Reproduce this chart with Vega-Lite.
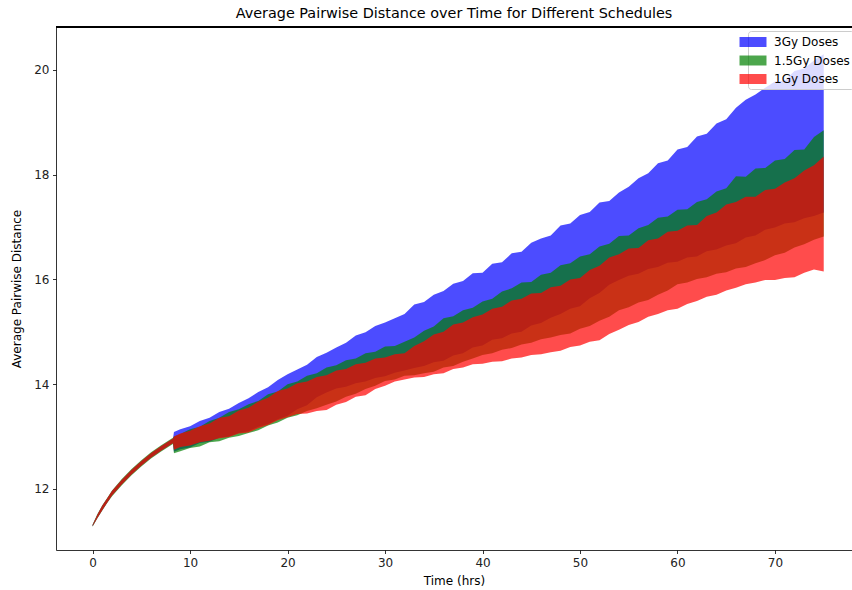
{
  "$schema": "https://vega.github.io/schema/vega-lite/v6.json",
  "width": 796,
  "height": 523,
  "autosize": "none",
  "padding": {"left": 56, "top": 27, "right": 0, "bottom": 40},
  "background": "white",
  "title": {"text": "Average Pairwise Distance over Time for Different Schedules", "font": "DejaVu Sans", "fontSize": 14.4, "fontWeight": "normal", "color": "#000000", "anchor": "middle", "offset": 5},
  "config": {
    "view": {"stroke": null},
    "axis": {"domainColor": "#000000", "domainWidth": 0.8, "tickColor": "#000000", "tickWidth": 0.8, "tickSize": 3.5, "labelColor": "#222222", "labelFont": "DejaVu Sans", "labelFontSize": 12, "labelPadding": 3.5, "titleFont": "DejaVu Sans", "titleFontSize": 12, "titleFontWeight": "normal", "titleColor": "#000000", "grid": false}
  },
  "data": {"values": [
    {"t":0,"bl":11.29,"bh":11.31,"gl":11.28,"gh":11.32,"rl":11.29,"rh":11.31},
    {"t":0.5,"bl":11.45,"bh":11.51,"gl":11.44,"gh":11.52,"rl":11.445,"rh":11.515},
    {"t":1,"bl":11.6,"bh":11.68,"gl":11.59,"gh":11.69,"rl":11.595,"rh":11.685},
    {"t":1.5,"bl":11.74,"bh":11.82,"gl":11.73,"gh":11.83,"rl":11.735,"rh":11.825},
    {"t":2,"bl":11.88,"bh":11.96,"gl":11.86,"gh":11.97,"rl":11.875,"rh":11.965},
    {"t":3,"bl":12.09,"bh":12.17,"gl":12.07,"gh":12.19,"rl":12.085,"rh":12.175},
    {"t":4,"bl":12.28,"bh":12.36,"gl":12.26,"gh":12.38,"rl":12.275,"rh":12.365},
    {"t":5,"bl":12.45,"bh":12.53,"gl":12.43,"gh":12.55,"rl":12.445,"rh":12.535},
    {"t":6,"bl":12.6,"bh":12.68,"gl":12.58,"gh":12.7,"rl":12.595,"rh":12.685},
    {"t":7,"bl":12.73,"bh":12.81,"gl":12.71,"gh":12.83,"rl":12.725,"rh":12.815},
    {"t":8,"bl":12.85,"bh":12.93,"gl":12.83,"gh":12.95,"rl":12.845,"rh":12.935},
    {"t":8.25,"bl":12.88,"bh":12.96,"gl":12.86,"gh":12.98,"rl":12.875,"rh":12.965},
    {"t":8.35,"bl":12.71,"bh":13.09,"gl":12.68,"gh":13.0,"rl":12.75,"rh":13.0},
    {"t":9,"bl":12.76,"bh":13.14,"gl":12.72,"gh":13.05,"rl":12.8,"rh":13.06},
    {"t":10,"bl":12.79,"bh":13.2,"gl":12.78,"gh":13.14,"rl":12.83,"rh":13.11},
    {"t":11,"bl":12.88,"bh":13.3,"gl":12.81,"gh":13.19,"rl":12.89,"rh":13.2},
    {"t":12,"bl":12.9,"bh":13.36,"gl":12.89,"gh":13.3,"rl":12.92,"rh":13.25},
    {"t":13,"bl":12.98,"bh":13.47,"gl":12.91,"gh":13.36,"rl":12.97,"rh":13.36},
    {"t":14,"bl":13.0,"bh":13.53,"gl":12.98,"gh":13.47,"rl":12.99,"rh":13.39},
    {"t":15,"bl":13.07,"bh":13.64,"gl":13.01,"gh":13.52,"rl":13.06,"rh":13.5},
    {"t":16,"bl":13.1,"bh":13.73,"gl":13.07,"gh":13.62,"rl":13.08,"rh":13.55},
    {"t":17,"bl":13.19,"bh":13.85,"gl":13.12,"gh":13.68,"rl":13.16,"rh":13.67},
    {"t":18,"bl":13.24,"bh":13.94,"gl":13.21,"gh":13.81,"rl":13.22,"rh":13.74},
    {"t":19,"bl":13.33,"bh":14.08,"gl":13.27,"gh":13.86,"rl":13.31,"rh":13.87},
    {"t":20,"bl":13.4,"bh":14.19,"gl":13.36,"gh":14.0,"rl":13.37,"rh":13.92},
    {"t":21,"bl":13.52,"bh":14.28,"gl":13.41,"gh":14.05,"rl":13.43,"rh":14.02},
    {"t":22,"bl":13.6,"bh":14.37,"gl":13.49,"gh":14.16,"rl":13.44,"rh":14.05},
    {"t":23,"bl":13.75,"bh":14.52,"gl":13.54,"gh":14.21,"rl":13.49,"rh":14.14},
    {"t":24,"bl":13.84,"bh":14.6,"gl":13.61,"gh":14.32,"rl":13.51,"rh":14.17},
    {"t":25,"bl":13.92,"bh":14.7,"gl":13.67,"gh":14.36,"rl":13.61,"rh":14.26},
    {"t":26,"bl":13.95,"bh":14.79,"gl":13.76,"gh":14.46,"rl":13.66,"rh":14.29},
    {"t":27,"bl":14.02,"bh":14.93,"gl":13.82,"gh":14.49,"rl":13.76,"rh":14.38},
    {"t":28,"bl":14.05,"bh":14.99,"gl":13.91,"gh":14.59,"rl":13.79,"rh":14.41},
    {"t":29,"bl":14.12,"bh":15.11,"gl":13.97,"gh":14.62,"rl":13.91,"rh":14.49},
    {"t":30,"bl":14.15,"bh":15.18,"gl":14.06,"gh":14.72,"rl":13.97,"rh":14.51},
    {"t":31,"bl":14.22,"bh":15.26,"gl":14.09,"gh":14.73,"rl":14.05,"rh":14.57},
    {"t":32,"bl":14.26,"bh":15.34,"gl":14.16,"gh":14.81,"rl":14.09,"rh":14.59},
    {"t":33,"bl":14.31,"bh":15.52,"gl":14.17,"gh":14.89,"rl":14.13,"rh":14.73},
    {"t":34,"bl":14.35,"bh":15.57,"gl":14.21,"gh":15.02,"rl":14.14,"rh":14.82},
    {"t":35,"bl":14.42,"bh":15.71,"gl":14.24,"gh":15.1,"rl":14.19,"rh":14.95},
    {"t":36,"bl":14.45,"bh":15.78,"gl":14.32,"gh":15.26,"rl":14.21,"rh":15.0},
    {"t":37,"bl":14.55,"bh":15.92,"gl":14.35,"gh":15.3,"rl":14.29,"rh":15.14},
    {"t":38,"bl":14.59,"bh":15.97,"gl":14.43,"gh":15.41,"rl":14.32,"rh":15.18},
    {"t":39,"bl":14.7,"bh":16.12,"gl":14.49,"gh":15.46,"rl":14.38,"rh":15.28},
    {"t":40,"bl":14.74,"bh":16.13,"gl":14.56,"gh":15.58,"rl":14.39,"rh":15.33},
    {"t":41,"bl":14.85,"bh":16.3,"gl":14.59,"gh":15.63,"rl":14.43,"rh":15.44},
    {"t":42,"bl":14.88,"bh":16.33,"gl":14.66,"gh":15.77,"rl":14.44,"rh":15.48},
    {"t":43,"bl":14.97,"bh":16.5,"gl":14.69,"gh":15.83,"rl":14.49,"rh":15.6},
    {"t":44,"bl":15.0,"bh":16.53,"gl":14.76,"gh":15.94,"rl":14.51,"rh":15.63},
    {"t":45,"bl":15.12,"bh":16.7,"gl":14.79,"gh":15.95,"rl":14.56,"rh":15.73},
    {"t":46,"bl":15.17,"bh":16.78,"gl":14.86,"gh":16.09,"rl":14.57,"rh":15.74},
    {"t":47,"bl":15.27,"bh":16.84,"gl":14.89,"gh":16.13,"rl":14.61,"rh":15.85},
    {"t":48,"bl":15.34,"bh":17.03,"gl":14.94,"gh":16.27,"rl":14.64,"rh":15.88},
    {"t":49,"bl":15.44,"bh":17.07,"gl":14.97,"gh":16.31,"rl":14.71,"rh":16.0},
    {"t":50,"bl":15.49,"bh":17.23,"gl":15.06,"gh":16.44,"rl":14.74,"rh":16.03},
    {"t":51,"bl":15.64,"bh":17.29,"gl":15.11,"gh":16.48,"rl":14.81,"rh":16.18},
    {"t":52,"bl":15.74,"bh":17.47,"gl":15.21,"gh":16.63,"rl":14.84,"rh":16.26},
    {"t":53,"bl":15.9,"bh":17.5,"gl":15.29,"gh":16.68,"rl":14.96,"rh":16.42},
    {"t":54,"bl":15.99,"bh":17.66,"gl":15.41,"gh":16.83,"rl":15.04,"rh":16.48},
    {"t":55,"bl":16.07,"bh":17.77,"gl":15.47,"gh":16.84,"rl":15.13,"rh":16.59},
    {"t":56,"bl":16.11,"bh":17.93,"gl":15.56,"gh":16.98,"rl":15.19,"rh":16.6},
    {"t":57,"bl":16.2,"bh":18.03,"gl":15.61,"gh":17.04,"rl":15.29,"rh":16.75},
    {"t":58,"bl":16.24,"bh":18.22,"gl":15.71,"gh":17.18,"rl":15.34,"rh":16.78},
    {"t":59,"bl":16.32,"bh":18.27,"gl":15.79,"gh":17.2,"rl":15.41,"rh":16.91},
    {"t":60,"bl":16.34,"bh":18.48,"gl":15.91,"gh":17.33,"rl":15.44,"rh":16.93},
    {"t":61,"bl":16.42,"bh":18.53,"gl":15.94,"gh":17.34,"rl":15.53,"rh":17.03},
    {"t":62,"bl":16.44,"bh":18.73,"gl":16.01,"gh":17.48,"rl":15.59,"rh":17.04},
    {"t":63,"bl":16.54,"bh":18.78,"gl":16.04,"gh":17.53,"rl":15.67,"rh":17.21},
    {"t":64,"bl":16.57,"bh":18.98,"gl":16.11,"gh":17.68,"rl":15.71,"rh":17.28},
    {"t":65,"bl":16.65,"bh":19.06,"gl":16.14,"gh":17.74,"rl":15.79,"rh":17.43},
    {"t":66,"bl":16.69,"bh":19.28,"gl":16.21,"gh":17.97,"rl":15.84,"rh":17.48},
    {"t":67,"bl":16.8,"bh":19.43,"gl":16.24,"gh":17.96,"rl":15.91,"rh":17.58},
    {"t":68,"bl":16.84,"bh":19.53,"gl":16.31,"gh":18.12,"rl":15.94,"rh":17.58},
    {"t":69,"bl":16.95,"bh":19.66,"gl":16.37,"gh":18.13,"rl":15.99,"rh":17.71},
    {"t":70,"bl":16.99,"bh":19.78,"gl":16.46,"gh":18.27,"rl":15.99,"rh":17.73},
    {"t":71,"bl":17.07,"bh":19.8,"gl":16.51,"gh":18.3,"rl":16.03,"rh":17.85},
    {"t":72,"bl":17.09,"bh":19.98,"gl":16.61,"gh":18.47,"rl":16.04,"rh":17.93},
    {"t":73,"bl":17.17,"bh":20.03,"gl":16.67,"gh":18.48,"rl":16.13,"rh":18.08},
    {"t":74,"bl":17.21,"bh":20.18,"gl":16.76,"gh":18.72,"rl":16.19,"rh":18.18},
    {"t":75,"bl":17.28,"bh":20.3,"gl":16.82,"gh":18.85,"rl":16.15,"rh":18.35}
  ]},
  "layer": [
    {
      "mark": {"type": "area", "opacity": 0.7},
      "encoding": {
        "x": {"field": "t", "type": "quantitative", "title": "Time (hrs)", "scale": {"domain": [-3.75, 77.9], "nice": false, "zero": false}, "axis": {"values": [0, 10, 20, 30, 40, 50, 60, 70], "titlePadding": 7}},
        "y": {"field": "bl", "type": "quantitative", "title": "Average Pairwise Distance", "scale": {"domain": [10.835, 20.82], "nice": false, "zero": false}, "axis": {"values": [12, 14, 16, 18, 20], "titlePadding": 10}},
        "y2": {"field": "bh"},
        "color": {"datum": "3Gy Doses", "type": "nominal", "scale": {"domain": ["3Gy Doses", "1.5Gy Doses", "1Gy Doses"], "range": ["#0000ff", "#008000", "#ff0000"]},
          "legend": {"orient": "none", "legendX": 692, "legendY": 4, "title": null, "fillColor": "rgba(255,255,255,0.8)", "strokeColor": "#cccccc", "cornerRadius": 3, "padding": 4, "labelFont": "DejaVu Sans", "labelFontSize": 12, "labelColor": "#000000", "symbolType": "M-2,-0.74H2V0.74H-2Z", "symbolSize": 182, "symbolOffset": -6, "symbolOpacity": 0.7, "symbolStrokeWidth": 0, "rowPadding": 5.5, "labelOffset": 14}}
      }
    },
    {
      "mark": {"type": "area", "opacity": 0.7},
      "encoding": {"x": {"field": "t", "type": "quantitative"}, "y": {"field": "gl", "type": "quantitative"}, "y2": {"field": "gh"}, "color": {"datum": "1.5Gy Doses", "type": "nominal"}}
    },
    {
      "mark": {"type": "area", "opacity": 0.7},
      "encoding": {"x": {"field": "t", "type": "quantitative"}, "y": {"field": "rl", "type": "quantitative"}, "y2": {"field": "rh"}, "color": {"datum": "1Gy Doses", "type": "nominal"}}
    },
    {
      "mark": {"type": "rule", "color": "#000000", "strokeWidth": 0.8},
      "encoding": {"y": {"datum": 20.82}}
    }
  ]
}
